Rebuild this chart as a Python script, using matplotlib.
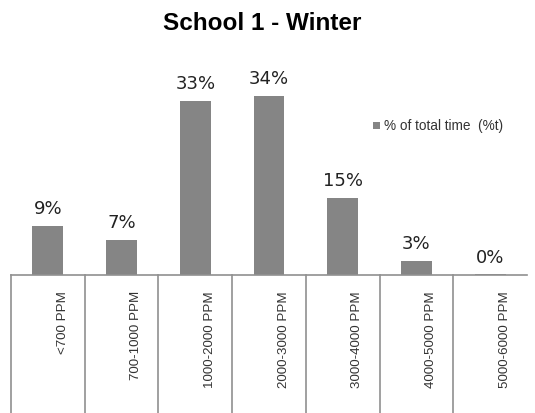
import matplotlib.pyplot as plt
from matplotlib.transforms import blended_transform_factory

# Data
categories = ["<700 PPM", "700-1000 PPM", "1000-2000 PPM", "2000-3000 PPM",
              "3000-4000 PPM", "4000-5000 PPM", "5000-6000 PPM"]
pct_time = [9.3, 6.6, 33.1, 34.0, 14.6, 2.6, 0.1]
series_name = "% of total time  (%t)"

W, H = 535, 413
fig = plt.figure(figsize=(W / 100, H / 100), dpi=100)
ax = fig.add_axes([11 / W, (H - 275) / H, (527 - 11) / W, (275 - 60) / H])

x = list(range(len(categories)))
ax.bar(x, pct_time, width=0.42, color="#858585", label=series_name)

ax.set_xlim(-0.5, len(categories) - 0.5)
ax.set_ylim(0, 40.8)
for side in ["top", "right", "left"]:
    ax.spines[side].set_visible(False)
ax.spines["bottom"].set_color("#909090")
ax.spines["bottom"].set_linewidth(1.2)
ax.set_xticks([])
ax.set_yticks([])

# Value labels above bars
for xi, v in zip(x, pct_time):
    ax.text(xi, v + 1.5, f"{round(v)}%", ha="center", va="bottom",
            fontsize=13, color="#222222", family="DejaVu Sans")

# Category dividers and rotated labels below the axis
trans = blended_transform_factory(ax.transData, ax.transAxes)
for i in range(len(categories)):
    ax.plot([i - 0.5, i - 0.5], [0, -0.7], transform=trans, color="#909090",
            linewidth=1.2, clip_on=False)
for xi, cat in zip(x, categories):
    ax.text(xi + 0.2, -0.074, cat, transform=trans, rotation=90,
            ha="center", va="top", fontsize=9.6, color="#333333",
            family="Liberation Sans")

fig.text(262 / W, 1 - 23 / H, "School 1 - Winter", ha="center", va="center",
         fontsize=17.5, fontweight="bold", family="Liberation Sans")

fig.legend(loc="upper left", bbox_to_anchor=(361 / W, 1 - 107 / H),
           frameon=False, handlelength=0.5, handleheight=0.5,
           handletextpad=0.3, prop={"family": "Liberation Sans", "size": 9.8},
           labelcolor="#333333")

fig.savefig("out.png", dpi=100)
